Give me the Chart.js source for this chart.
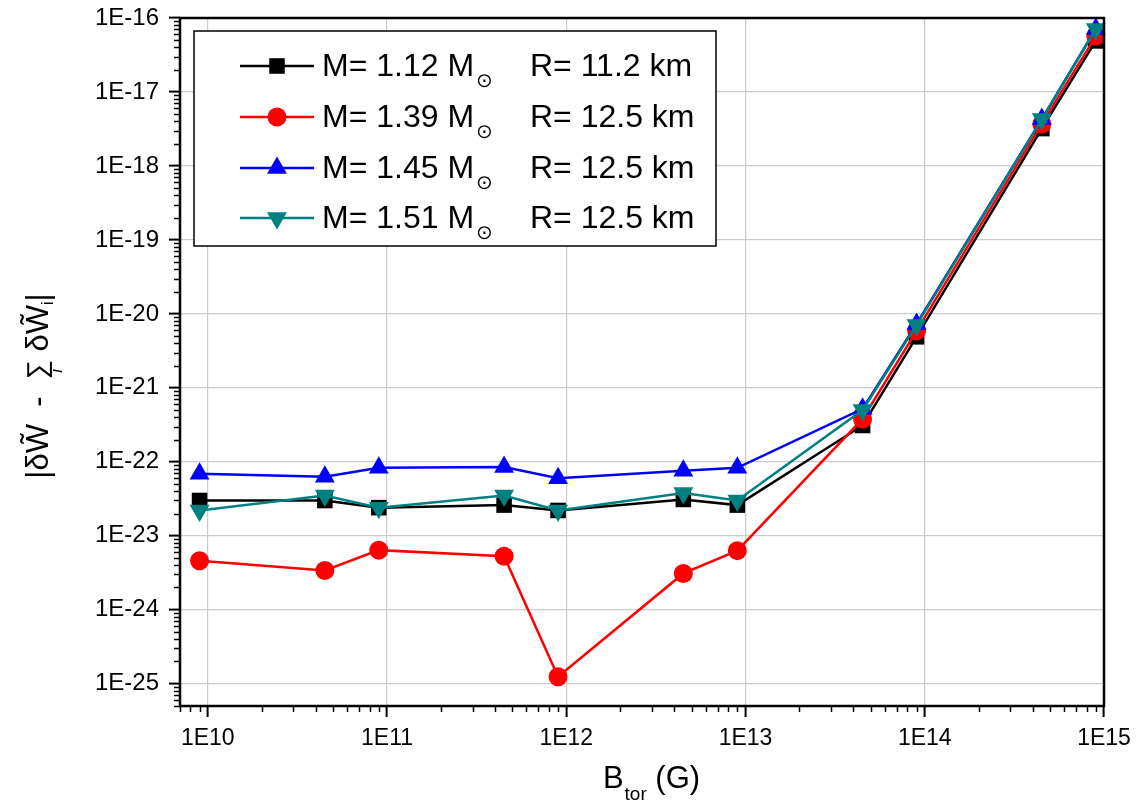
<!DOCTYPE html>
<html>
<head>
<meta charset="utf-8">
<script src="https://cdn.jsdelivr.net/npm/chart.js@4.4.1/dist/chart.umd.min.js"></script>
<style>
body { margin: 0; background: #fff; }
</style>
</head>
<body>
<canvas id="chart" width="1143" height="805"></canvas>
<script>
// B_tor values (G)
var bTor = [9e9, 4.5e10, 9e10, 4.5e11, 9e11, 4.5e12, 9e12, 4.5e13, 9e13, 4.5e14, 9e14];

// |dW - sum dW_i| for each star model
var dW_m112 = [3.0e-23, 3.0e-23, 2.4e-23, 2.6e-23, 2.2e-23, 3.1e-23, 2.6e-23, 3.1e-22, 4.9e-21, 3.2e-18, 4.9e-17];
var dW_m139 = [4.6e-24, 3.4e-24, 6.4e-24, 5.3e-24, 1.24e-25, 3.1e-24, 6.3e-24, 3.8e-22, 5.9e-21, 3.7e-18, 5.7e-17];
var dW_m145 = [6.9e-23, 6.3e-23, 8.3e-23, 8.5e-23, 6.0e-23, 7.6e-23, 8.3e-23, 5.2e-22, 7.3e-21, 4.3e-18, 7.1e-17];
var dW_m151 = [2.2e-23, 3.5e-23, 2.4e-23, 3.5e-23, 2.2e-23, 3.8e-23, 3.0e-23, 5.0e-22, 7.1e-21, 4.3e-18, 7.1e-17];

var massLabels = ['M= 1.12 M', 'M= 1.39 M', 'M= 1.45 M', 'M= 1.51 M'];
var radiusLabels = ['R= 11.2 km', 'R= 12.5 km', 'R= 12.5 km', 'R= 12.5 km'];

var xTickValues = [1e10, 1e11, 1e12, 1e13, 1e14, 1e15];
var yTickValues = [1e-25, 1e-24, 1e-23, 1e-22, 1e-21, 1e-20, 1e-19, 1e-18, 1e-17, 1e-16];

var colors = ['#000000', '#ff0000', '#0000ff', '#008080'];
var markers = ['rect', 'circle', 'triangle', 'triangle'];
var markerSize = [11, 9.5, 11.5, 11.5];
var markerRot = [0, 0, 0, 180];

var FONT = "'Liberation Sans', Arial, sans-serif";

function toPoints(ys) {
	return bTor.map(function(b, i){ return {x: b, y: ys[i]}; });
}

var allSeries = [dW_m112, dW_m139, dW_m145, dW_m151];
var datasets = allSeries.map(function(s, i){
	return {
		label: massLabels[i] + ' ' + radiusLabels[i],
		data: toPoints(s),
		borderColor: colors[i],
		backgroundColor: colors[i],
		borderWidth: 2.5,
		pointStyle: markers[i],
		pointRadius: markerSize[i],
		pointHoverRadius: markerSize[i],
		pointRotation: markerRot[i],
		pointBorderWidth: 0,
		order: 3 - i,
		tension: 0
	};
});

function expLabel(v) {
	return '1E' + Math.round(Math.log10(v));
}

function drawMarker(ctx, style, x, y, r, rot) {
	ctx.beginPath();
	if (style === 'rect') {
		var s = r * Math.SQRT1_2;
		ctx.rect(x - s, y - s, 2 * s, 2 * s);
	} else if (style === 'circle') {
		ctx.arc(x, y, r, 0, Math.PI * 2);
	} else {
		var a = rot * Math.PI / 180;
		for (var k = 0; k < 3; k++) {
			var px = x + Math.sin(a) * r, py = y - Math.cos(a) * r;
			if (k === 0) ctx.moveTo(px, py); else ctx.lineTo(px, py);
			a += 2 * Math.PI / 3;
		}
		ctx.closePath();
	}
	ctx.fill();
}

var decor = {
	id: 'decor',
	afterDraw: function(chart){
		var ctx = chart.ctx, a = chart.chartArea;
		var xs = chart.scales.x, ys = chart.scales.y;
		ctx.save();

		// minor ticks
		ctx.strokeStyle = '#000';
		ctx.lineWidth = 1.5;
		ctx.beginPath();
		var e, k, v, p;
		for (e = 9; e <= 15; e++) {
			for (k = 2; k <= 9; k++) {
				v = k * Math.pow(10, e);
				if (v < xs.min || v > xs.max) continue;
				p = Math.round(xs.getPixelForValue(v)) + 0.5;
				ctx.moveTo(p, a.bottom);
				ctx.lineTo(p, a.bottom + 6);
			}
		}
		for (e = -27; e <= -16; e++) {
			for (k = 2; k <= 9; k++) {
				v = k * Math.pow(10, e);
				if (v < ys.min || v > ys.max) continue;
				p = Math.round(ys.getPixelForValue(v)) + 0.5;
				ctx.moveTo(a.left, p);
				ctx.lineTo(a.left - 6, p);
			}
		}
		ctx.stroke();

		// frame
		ctx.lineWidth = 2.5;
		ctx.strokeRect(a.left, a.top, a.right - a.left, a.bottom - a.top);

		// legend
		var lx = 194, ly = 31, lw = 522, lh = 215;
		ctx.fillStyle = '#fff';
		ctx.fillRect(lx, ly, lw, lh);
		ctx.lineWidth = 1.5;
		ctx.strokeStyle = '#000';
		ctx.strokeRect(lx, ly, lw, lh);
		var rows = [66, 117, 168, 218];
		ctx.textBaseline = 'middle';
		for (var i = 0; i < 4; i++) {
			var ry = rows[i];
			ctx.strokeStyle = colors[i];
			ctx.fillStyle = colors[i];
			ctx.lineWidth = 2.5;
			ctx.beginPath();
			ctx.moveTo(240, ry);
			ctx.lineTo(314, ry);
			ctx.stroke();
			drawMarker(ctx, markers[i], 277, ry, markerSize[i], markerRot[i]);

			ctx.fillStyle = '#000';
			ctx.font = '32px ' + FONT;
			ctx.textAlign = 'left';
			ctx.fillText(massLabels[i], 322, ry + 1);
			var mw = ctx.measureText(massLabels[i]).width;
			ctx.font = '20px ' + FONT;
			ctx.fillText('\u2299', 322 + mw + 2, ry + 15);
			ctx.font = '32px ' + FONT;
			ctx.fillText(radiusLabels[i], 530, ry + 1);
		}

		// x title: B_tor (G)
		ctx.fillStyle = '#000';
		ctx.textBaseline = 'alphabetic';
		ctx.textAlign = 'left';
		ctx.font = '31px ' + FONT;
		var wB = ctx.measureText('B').width;
		var wG = ctx.measureText(' (G)').width;
		ctx.font = '19px ' + FONT;
		var wT = ctx.measureText('tor').width;
		var cx = (a.left + a.right) / 2 + 9;
		var sx = cx - (wB + wT + wG) / 2, by = 788;
		ctx.font = '31px ' + FONT;
		ctx.fillText('B', sx, by);
		ctx.font = '19px ' + FONT;
		ctx.fillText('tor', sx + wB + 1, by + 12);
		ctx.font = '31px ' + FONT;
		ctx.fillText(' (G)', sx + wB + wT + 1, by);

		// y title
		ctx.translate(48, 386);
		ctx.rotate(-Math.PI / 2);
		var parts = [
			{t: '|\u03B4W\u0303', f: '31px ' + FONT, dy: 0},
			{t: '  -  ', f: '31px ' + FONT, dy: 0},
			{t: '\u2211', f: '27px ' + FONT, dy: -2, sub: 'i'},
			{t: ' \u03B4W\u0303', f: '31px ' + FONT, dy: 0},
			{t: 'i', f: '16px ' + FONT, dy: 5},
			{t: '|', f: '31px ' + FONT, dy: 0}
		];
		var total = 0;
		parts.forEach(function(pt){ ctx.font = pt.f; pt.w = ctx.measureText(pt.t).width; total += pt.w; });
		var tx = -total / 2;
		parts.forEach(function(pt){
			ctx.font = pt.f;
			ctx.fillText(pt.t, tx, pt.dy);
			if (pt.sub) {
				ctx.font = 'italic 17px ' + FONT;
				ctx.fillText(pt.sub, tx + pt.w / 2 - 3, 14);
			}
			tx += pt.w;
		});

		ctx.restore();
	}
};

var canvas = document.getElementById('chart').getContext('2d');
window.graf = new Chart(canvas, {
	type: 'line',
	data: { datasets: datasets },
	options: {
		responsive: false,
		animation: false,
		clip: false,
		layout: { padding: { left: 0, top: 18, right: 39, bottom: 0 } },
		plugins: {
			legend: { display: false },
			tooltip: { enabled: false },
			title: { display: false }
		},
		scales: {
			x: {
				type: 'logarithmic',
				min: 7e9,
				max: 1e15,
				bounds: 'data',
				afterBuildTicks: function(scale){
					scale.ticks = xTickValues.map(function(v){ return {value: v}; });
				},
				afterFit: function(scale){
					scale.height = 99;
					scale.paddingLeft = 0;
					scale.paddingRight = 0;
				},
				grid: { color: '#cccccc', lineWidth: 1.2, tickColor: '#000', tickWidth: 2, tickLength: 11 },
				border: { display: false },
				ticks: {
					autoSkip: false,
					maxRotation: 0,
					padding: 8,
					color: '#000',
					font: { family: FONT, size: 23 },
					callback: function(v){ return expLabel(v); }
				}
			},
			y: {
				type: 'logarithmic',
				min: 5e-26,
				max: 1e-16,
				bounds: 'data',
				afterBuildTicks: function(scale){
					scale.ticks = yTickValues.map(function(v){ return {value: v}; });
				},
				afterFit: function(scale){
					scale.width = 180;
					scale.paddingTop = 0;
					scale.paddingBottom = 0;
				},
				grid: { color: '#cccccc', lineWidth: 1.2, tickColor: '#000', tickWidth: 2, tickLength: 11 },
				border: { display: false },
				ticks: {
					autoSkip: false,
					padding: 10,
					color: '#000',
					font: { family: FONT, size: 24 },
					callback: function(v){ return expLabel(v); }
				}
			}
		}
	},
	plugins: [decor]
});
</script>
</body>
</html>
